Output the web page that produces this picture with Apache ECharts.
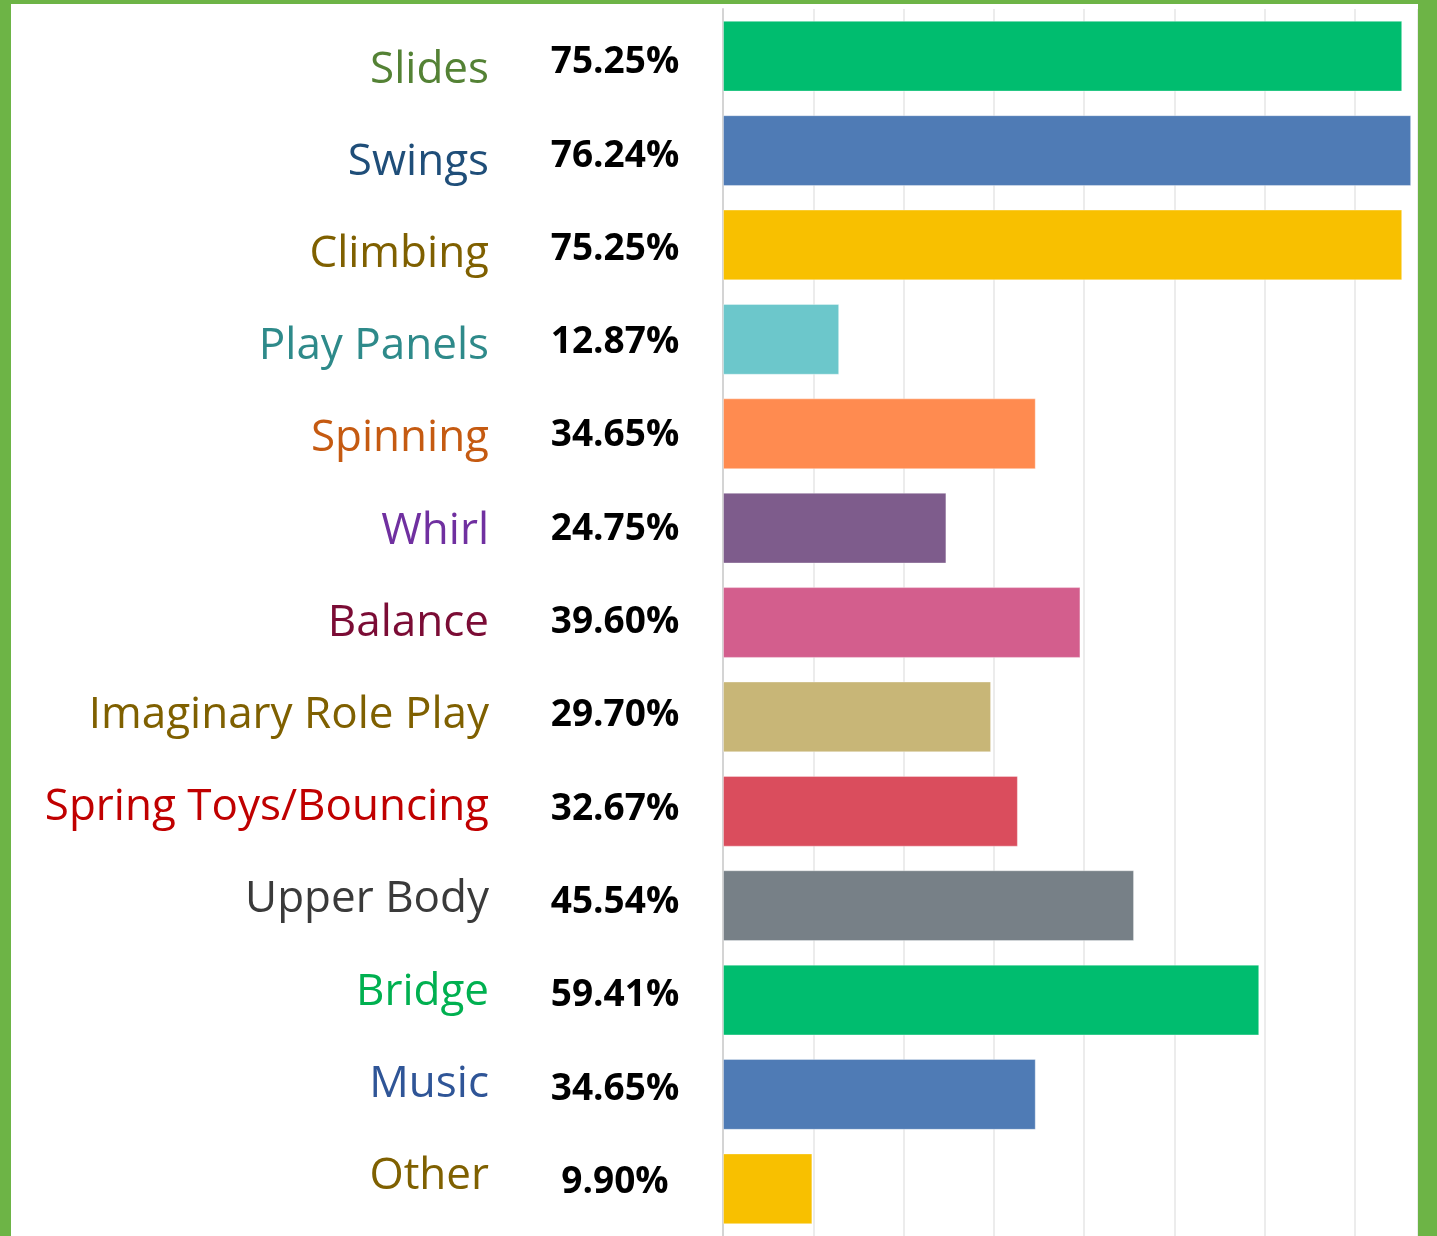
<!DOCTYPE html>
<html>
<head>
<meta charset="utf-8">
<script src="https://cdn.jsdelivr.net/npm/echarts@6/dist/echarts.min.js"></script>
<style>
  html, body { margin: 0; padding: 0; background: #fff; }
  #wrap { position: relative; width: 1437px; height: 1236px; }
  #main { width: 1437px; height: 1236px; }
  /* green frame round the picture */
  #frame {
    position: absolute; left: 0; top: 0; right: 0; bottom: 0;
    border-left: 11px solid #6db446; border-right: 19px solid #6db446;
    border-top: 4px solid #6db446; pointer-events: none;
  }
</style>
</head>
<body>
<div id="wrap">
  <div id="main"></div>
  <div id="frame"></div>
</div>
<script>
// data
const categories = ['Slides', 'Swings', 'Climbing', 'Play Panels', 'Spinning', 'Whirl', 'Balance',
  'Imaginary Role Play', 'Spring Toys/Bouncing', 'Upper Body', 'Bridge', 'Music', 'Other'];
const values = [75.25, 76.24, 75.25, 12.87, 34.65, 24.75, 39.60, 29.70, 32.67, 45.54, 59.41, 34.65, 9.90];
const barColors = ['#00bd6f', '#4f7bb5', '#f8c000', '#6cc7cb', '#ff8b50', '#7e5c8c', '#d35e8d',
  '#c8b677', '#da4d5d', '#778087', '#00bd6f', '#4f7bb5', '#f8c000'];
const labelColors = ['#548235', '#1f4e79', '#7f6000', '#2e8a8a', '#c55a11', '#7030a0', '#7b0c35',
  '#7f6000', '#c00000', '#3a3a3a', '#00b050', '#2f5597', '#7f6000'];

// percent strings shown between names and bars
const percentLabels = values.map(v => v.toFixed(2) + '%');

const chart = echarts.init(document.getElementById('main'));

// the text columns are spaced a bit tighter than the bars, so each gets its own grid
const hiddenX = (gi) => ({
  type: 'value', gridIndex: gi, min: 0, max: 1, show: false
});

const option = {
  animation: false,
  backgroundColor: '#fff',
  grid: [
    { left: 723, right: 19, top: 9, bottom: 0 },      // bars
    { left: 723, right: 19, top: 24, bottom: 13.5 },  // names
    { left: 723, right: 19, top: 16, bottom: 7 }      // percents
  ],
  xAxis: [
    {
      type: 'value',
      gridIndex: 0,
      min: 0,
      max: 77,
      interval: 10,
      axisLabel: { show: false },
      axisLine: { show: false },
      axisTick: { show: false },
      splitLine: { show: true, lineStyle: { color: '#ececec', width: 2 } }
    },
    hiddenX(1),
    hiddenX(2)
  ],
  yAxis: [
    {
      type: 'category',
      gridIndex: 0,
      inverse: true,
      data: categories,
      axisTick: { show: false },
      axisLabel: { show: false },
      axisLine: { show: true, lineStyle: { color: '#d4d4d4', width: 2 } }
    },
    {
      type: 'category',
      gridIndex: 1,
      inverse: true,
      data: categories,
      axisTick: { show: false },
      axisLine: { show: false },
      axisLabel: {
        margin: 234,
        fontSize: 44,
        fontFamily: 'Open Sans',
        align: 'right',
        color: (val, idx) => labelColors[idx]
      }
    },
    {
      type: 'category',
      gridIndex: 2,
      inverse: true,
      data: percentLabels,
      axisTick: { show: false },
      axisLine: { show: false },
      axisLabel: {
        margin: 108,
        fontSize: 37,
        fontWeight: 'bold',
        fontFamily: 'Open Sans',
        align: 'center',
        color: '#000'
      }
    }
  ],
  series: [{
    type: 'bar',
    xAxisIndex: 0,
    yAxisIndex: 0,
    barCategoryGap: '25%',
    data: values.map((v, i) => ({
      value: v,
      itemStyle: { color: barColors[i], borderColor: 'rgba(255,255,255,0.35)', borderWidth: 1 }
    }))
  }]
};

chart.setOption(option);
</script>
</body>
</html>
